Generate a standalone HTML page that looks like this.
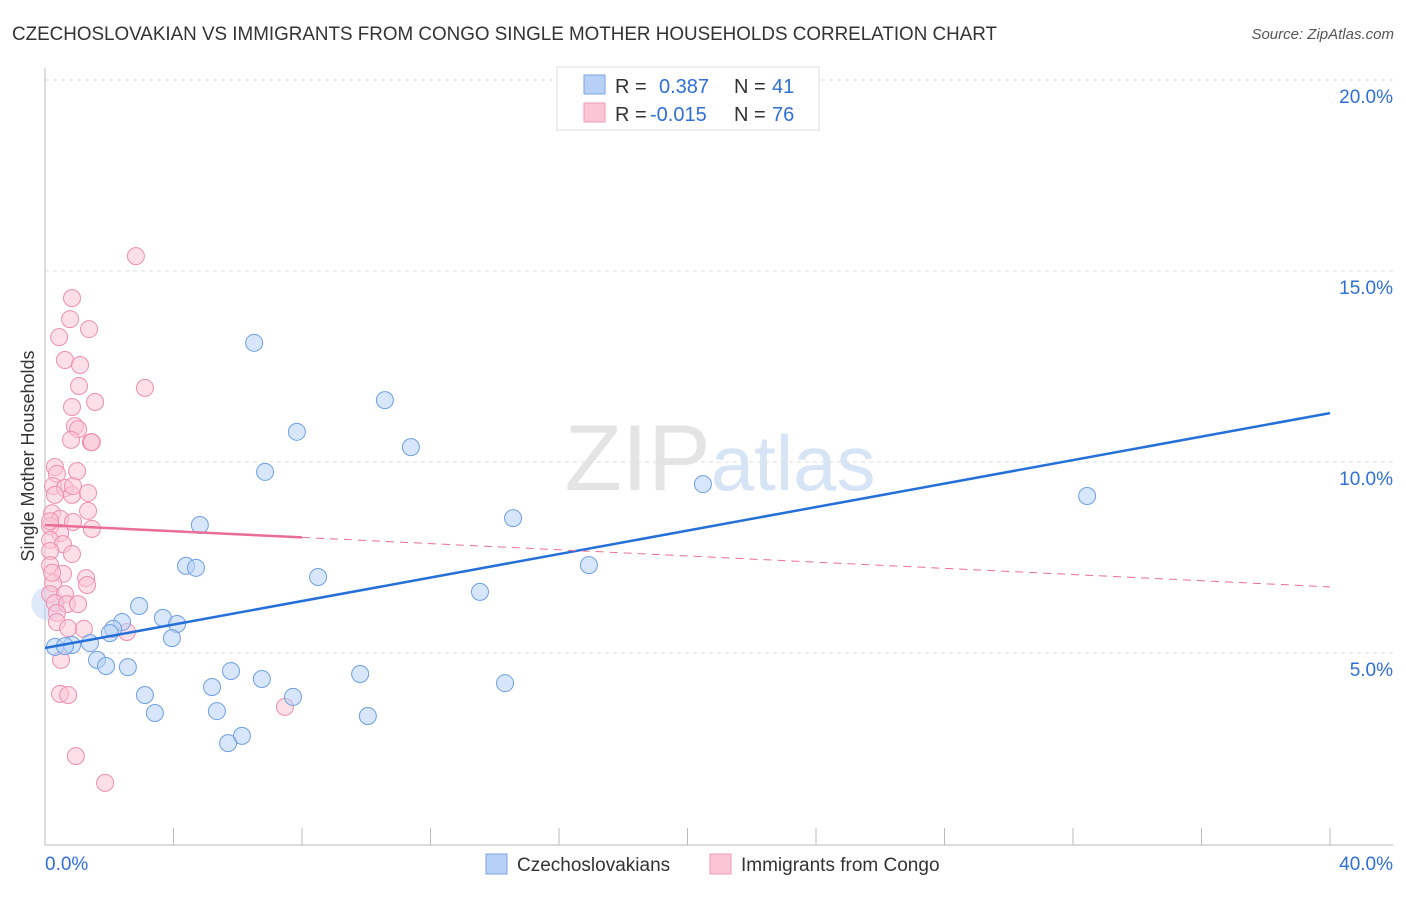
<!DOCTYPE html>
<html><head><meta charset="utf-8"><style>
body{margin:0;background:#fff;font-family:"Liberation Sans",sans-serif}
svg text{font-family:"Liberation Sans",sans-serif}
</style></head><body>
<svg id="chart" width="1406" height="892">
<text x="12" y="40" font-size="19" fill="#333" textLength="985" lengthAdjust="spacingAndGlyphs">CZECHOSLOVAKIAN VS IMMIGRANTS FROM CONGO SINGLE MOTHER HOUSEHOLDS CORRELATION CHART</text>
<text x="1394" y="39" font-size="15" fill="#555" font-style="italic" text-anchor="end">Source: ZipAtlas.com</text>
<text x="720" y="490" font-size="94" fill="#e4e4e4" text-anchor="middle" font-family="Liberation Serif">ZIP<tspan fill="#d6e4f5" font-family="Liberation Sans" font-size="78">atlas</tspan></text>
<g id="grid"></g>
<g id="axes"></g>
<g id="marks"></g>
<text transform="translate(34,456) rotate(-90)" font-size="18" fill="#333" text-anchor="middle">Single Mother Households</text>
<g>
<rect x="557" y="67" width="262" height="63" fill="#fff" stroke="#ddd"/>
<rect x="584" y="75" width="21" height="19" fill="#b6d1f5" stroke="#7aa5e0"/>
<rect x="584" y="103" width="21" height="19" fill="#fcc5d5" stroke="#f09ab5"/>
<text x="615" y="93" font-size="20" fill="#333">R = <tspan x="659" fill="#2f6fd6">0.387</tspan><tspan x="734" fill="#333">N = </tspan><tspan x="772" fill="#2f6fd6">41</tspan></text>
<text x="615" y="121" font-size="20" fill="#333">R = <tspan x="650" fill="#2f6fd6">-0.015</tspan><tspan x="734" fill="#333">N = </tspan><tspan x="772" fill="#2f6fd6">76</tspan></text>
</g>
<g>
<rect x="486" y="854" width="21" height="20" fill="#b6d1f5" stroke="#7aa5e0"/>
<text x="517" y="871" font-size="19" fill="#333">Czechoslovakians</text>
<rect x="710" y="854" width="21" height="20" fill="#fcc5d5" stroke="#f09ab5"/>
<text x="741" y="871" font-size="19" fill="#333">Immigrants from Congo</text>
</g>
</svg>
<script>
const blueX=[6.51,10.58,7.84,11.39,6.85,20.48,32.44,14.57,4.82,4.39,4.70,16.93,8.50,13.54,2.93,3.67,2.40,4.11,2.12,2.02,3.95,0.31,0.84,1.40,1.62,1.90,2.58,5.79,9.81,6.75,5.20,14.32,3.11,7.72,5.35,3.42,10.05,6.13,5.70,0.62];
const blueY=[13.12,11.62,10.79,10.39,9.74,9.42,9.11,8.53,8.35,7.28,7.23,7.30,6.99,6.60,6.23,5.92,5.81,5.76,5.63,5.52,5.39,5.16,5.21,5.26,4.82,4.66,4.63,4.53,4.45,4.32,4.11,4.21,3.90,3.85,3.48,3.43,3.35,2.83,2.64,5.18];
const pinkX=[2.83,0.84,0.78,1.37,0.44,0.62,1.09,1.06,3.11,0.84,1.56,0.93,1.03,0.81,1.43,1.46,0.31,0.37,1.00,0.25,0.62,0.84,1.34,0.31,0.87,0.22,0.47,1.34,0.87,0.16,0.47,1.46,0.16,0.56,0.84,0.16,0.16,0.56,1.28,1.31,0.25,0.16,0.62,0.31,0.68,1.03,0.37,0.37,0.72,1.21,2.55,0.50,0.47,0.72,0.96,1.87,7.47,0.16,0.22];
const pinkY=[15.39,14.29,13.74,13.48,13.27,12.67,12.54,11.99,11.94,11.44,11.57,10.94,10.86,10.58,10.52,10.52,9.87,9.69,9.76,9.37,9.32,9.14,9.19,9.14,9.37,8.66,8.51,8.72,8.43,8.32,8.14,8.25,7.96,7.85,7.59,7.67,7.30,7.07,6.96,6.78,6.83,6.54,6.54,6.31,6.28,6.28,6.05,5.81,5.65,5.63,5.55,4.82,3.93,3.90,2.30,1.60,3.59,8.45,7.10];
const yTicks=[5,10,15,20];
const xTickLabels=["0.0%","40.0%"];
const blueTrend=[5.13,11.28];
const pinkTrend=[8.35,6.73];
const NS='http://www.w3.org/2000/svg';
const X=v=>45+v*32.125, Y=v=>844-v*38.2;
function mk(tag,attrs,parent){const e=document.createElementNS(NS,tag);for(const k in attrs)e.setAttribute(k,attrs[k]);document.getElementById(parent).appendChild(e);return e;}
yTicks.forEach(t=>{
 const l=mk('line',{x1:45,x2:1393,y1:Y(t),y2:Y(t),stroke:'#ddd','stroke-dasharray':'4,4'},'grid');
 
 
 const tx=mk('text',{x:1393,y:Y(t)+23,'font-size':19,fill:'#2f6fd6','text-anchor':'end'},'axes');
 tx.textContent=t.toFixed(1)+'%';
 
 
});
mk('line',{x1:45,x2:45,y1:68,y2:845,stroke:'#bbb'},'axes');
mk('line',{x1:45,x2:1393,y1:845,y2:845,stroke:'#bbb'},'axes');
for(let i=0;i<=10;i++){const l=mk('line',{x1:X(i*4),x2:X(i*4),y1:828,y2:845,stroke:'#bbb'},'axes');
 
 }
let t0=mk('text',{x:45,y:870,'font-size':19,fill:'#2f6fd6'},'axes');t0.textContent=xTickLabels[0];


let t1=mk('text',{x:1393,y:870,'font-size':19,fill:'#2f6fd6','text-anchor':'end'},'axes');t1.textContent=xTickLabels[1];


const big=mk('circle',{cx:X(0.1),cy:Y(6.3),r:17,fill:'#b6d1f5','fill-opacity':0.45},'marks');


pinkX.forEach((x,i)=>{const c=mk('circle',{cx:X(x),cy:Y(pinkY[i]),r:8.5,fill:'#fcc5d5','fill-opacity':0.55,stroke:'#ee8fae','stroke-width':1},'marks');
 
 });
blueX.forEach((x,i)=>{const c=mk('circle',{cx:X(x),cy:Y(blueY[i]),r:8.5,fill:'#b6d1f5','fill-opacity':0.55,stroke:'#6f9fe0','stroke-width':1},'marks');
 
 });
const bl=mk('line',{x1:X(0),y1:Y(blueTrend[0]),x2:X(40),y2:Y(blueTrend[1]),stroke:'#2470d8','stroke-width':2.5},'marks');


const pm=pinkTrend[0]+(pinkTrend[1]-pinkTrend[0])*8/40;
const ps=mk('line',{x1:X(0),y1:Y(pinkTrend[0]),x2:X(8),y2:Y(pm),stroke:'#ea6d95','stroke-width':2.5},'marks');


const pd=mk('line',{x1:X(8),y1:Y(pm),x2:X(40),y2:Y(pinkTrend[1]),stroke:'#ea6d95','stroke-width':1,'stroke-dasharray':'8,6'},'marks');


</script>
</body></html>
